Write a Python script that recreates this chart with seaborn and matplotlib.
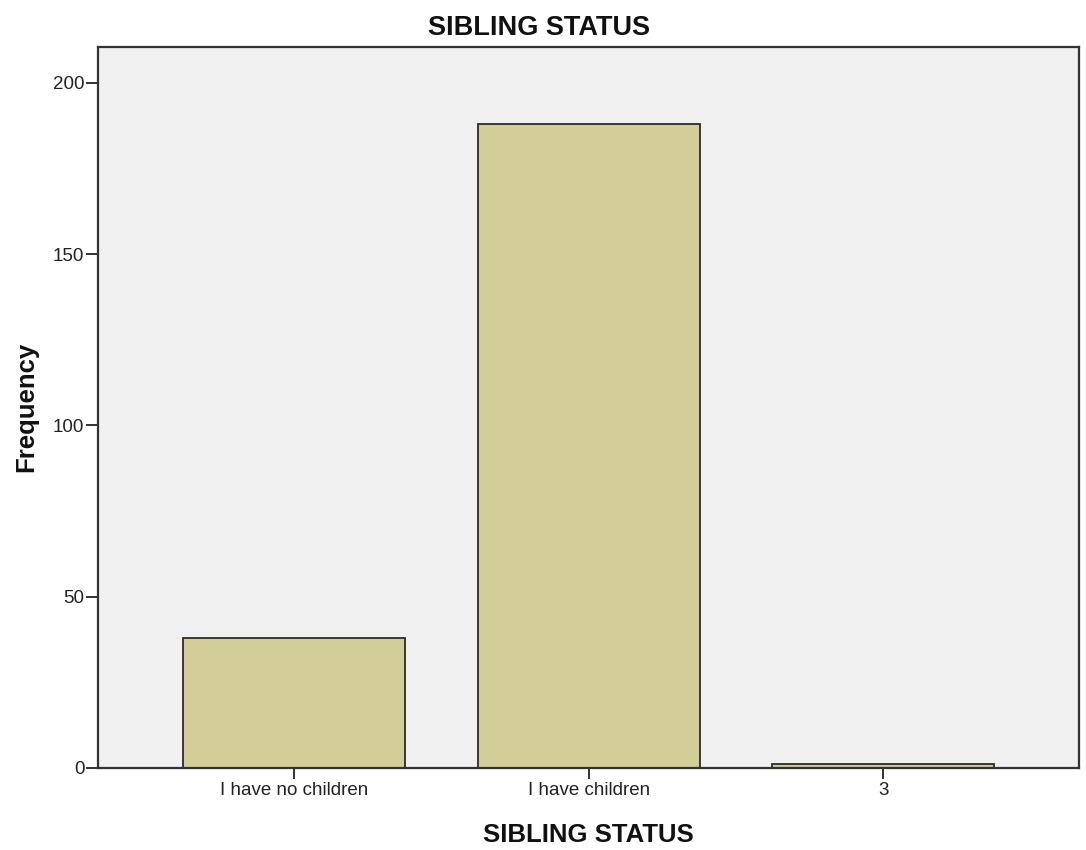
import pandas as pd
import numpy as np
import seaborn as sns
import matplotlib.pyplot as plt

# SPSS style bar chart of sibling status counts
categories = ['I have no children', 'I have children', '3']
frequency = [38, 188, 1]

df = pd.DataFrame({'status': categories, 'freq': frequency})

sns.set_theme(style='white')
plt.rcParams['font.family'] = ['Liberation Sans', 'DejaVu Sans']

fig = plt.figure(figsize=(10.86, 8.5), dpi=100)
ax = fig.add_axes([0.0905, 0.0968, 0.9033, 0.8483])
ax.set_facecolor('#F0F0F0')

sns.barplot(data=df, x='status', y='freq', color='#D3CE97', saturation=1,
            width=0.754, edgecolor='#2b2b2b', linewidth=1.3, ax=ax)

ax.set_xlim(-0.665, 2.665)
ax.set_ylim(0, 210.6)
ax.set_yticks([0, 50, 100, 150, 200])

for s in ax.spines.values():
    s.set_visible(True)
    s.set_color('#333333')
    s.set_linewidth(1.6)

ax.tick_params(axis='x', direction='out', length=8, width=1.4, color='#333333',
               pad=2.5, labelsize=13.5, labelcolor='#222222', bottom=True)
ax.tick_params(axis='y', direction='out', length=9, width=1.4, color='#333333',
               pad=1, labelsize=13.5, labelcolor='#222222', left=True)

ax.set_xlabel('SIBLING STATUS', fontsize=18.5, fontweight='bold', color='#111111')
ax.xaxis.set_label_coords(0.5, -0.1031)
ax.xaxis.label.set_va('baseline')

ax.set_ylabel('Frequency', fontsize=18.5, fontweight='bold', color='#111111')
ax.yaxis.set_label_coords(-0.0666, 0.5)
ax.yaxis.label.set_va('baseline')

fig.text(0.4963, 1 - 35 / 850, 'SIBLING STATUS', ha='center', va='baseline',
         fontsize=19.5, fontweight='bold', color='#111111')

fig.savefig('out.png', dpi=100, facecolor='white')
